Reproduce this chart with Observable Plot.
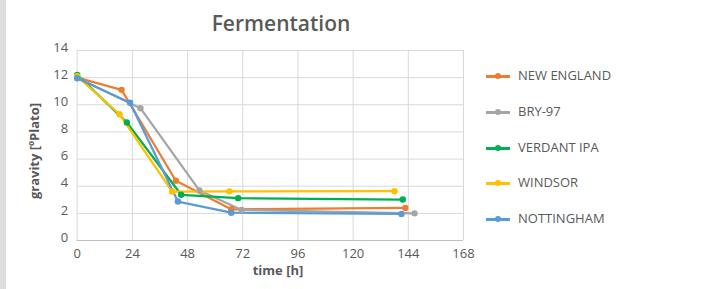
<!DOCTYPE html>
<html>
<head>
<meta charset="utf-8">
<script src="https://cdn.jsdelivr.net/npm/d3@7"></script>
<script src="https://cdn.jsdelivr.net/npm/@observablehq/plot@0.6"></script>
<style>
  html, body { margin: 0; padding: 0; background: #fff; }
  #wrap { position: relative; width: 702px; height: 289px; overflow: hidden; font-family: "Open Sans", sans-serif; color: #595959; }
  #strip { position: absolute; left: 0; top: 0; width: 6px; height: 289px; background: #dedede; }
  #chart { position: absolute; left: 0; top: 0; }
  #title { position: absolute; left: 0; width: 562px; top: 9px; text-align: center; font-size: 21px; font-weight: 600; color: #595959; }
  .axt { position: absolute; font-size: 13px; font-weight: 700; color: #595959; white-space: nowrap; }
  #xt { left: 178px; width: 200px; text-align: center; top: 261px; }
  #yt { left: 34px; top: 151px; transform: translate(-50%, -50%) rotate(-90deg); }
  #legend { position: absolute; left: 486px; top: 0; }
  .li { position: absolute; left: 0; height: 20px; width: 200px; }
  .li .sw { position: absolute; left: 0; top: 9px; width: 24px; height: 2.5px; }
  .li .dt { position: absolute; left: 9px; top: 7px; width: 6px; height: 6px; border-radius: 50%; }
  .li .lb { position: absolute; left: 32px; top: 0px; font-size: 13px; line-height: 19px; color: #595959; }
</style>
</head>
<body>
<div id="wrap">
  <div id="strip"></div>
  <div id="chart"></div>
  <div id="title">Fermentation</div>
  <div class="axt" id="xt">time [h]</div>
  <div class="axt" id="yt">gravity [ºPlato]</div>
  <div id="legend"></div>
</div>
<script>
// Series names and colours
const seriesNames = ["NEW ENGLAND", "BRY-97", "VERDANT IPA", "WINDSOR", "NOTTINGHAM"];
const seriesColors = ["#ED7D31", "#A5A5A5", "#00B050", "#FFC000", "#5B9BD5"];

// Time (h) and gravity (ºPlato) for each series
const newEnglandTime = [0, 19.3, 42.9, 67, 142.7];
const newEnglandGravity = [12.0, 11.1, 4.4, 2.3, 2.4];
const bry97Time = [0, 27.5, 53.2, 71.5, 146.7];
const bry97Gravity = [12.0, 9.75, 3.68, 2.25, 2.0];
const verdantTime = [0, 21.6, 45.2, 70, 141.6];
const verdantGravity = [12.2, 8.7, 3.37, 3.12, 3.02];
const windsorTime = [0, 18.4, 41.3, 66.2, 138];
const windsorGravity = [12.1, 9.3, 3.61, 3.62, 3.63];
const nottinghamTime = [0, 23, 43.8, 67, 141];
const nottinghamGravity = [11.95, 10.15, 2.87, 2.05, 1.96];

// Axis ticks
const xTicks = [0, 24, 48, 72, 96, 120, 144, 168];
const yTicks = [0, 2, 4, 6, 8, 10, 12, 14];

const times = [newEnglandTime, bry97Time, verdantTime, windsorTime, nottinghamTime];
const gravities = [newEnglandGravity, bry97Gravity, verdantGravity, windsorGravity, nottinghamGravity];

const data = [];
seriesNames.forEach((name, i) => {
  times[i].forEach((t, j) => data.push({series: name, time: t, gravity: gravities[i][j]}));
});

const plot = Plot.plot({
  width: 702,
  height: 289,
  marginLeft: 76.7,
  marginRight: 239,
  marginTop: 50,
  marginBottom: 49,
  style: {fontFamily: "'Open Sans', sans-serif", fontSize: "13px", color: "#595959", background: "transparent"},
  x: {domain: [0, 168], ticks: xTicks},
  y: {domain: [0, 14], ticks: yTicks},
  color: {domain: seriesNames, range: seriesColors},
  marks: [
    Plot.gridX(xTicks, {stroke: "#d9d9d9", strokeOpacity: 1, strokeWidth: 1}),
    Plot.gridY(yTicks, {stroke: "#d9d9d9", strokeOpacity: 1, strokeWidth: 1}),
    Plot.ruleY([0], {stroke: "#bfbfbf", strokeWidth: 1}),
    Plot.axisX(xTicks, {tickSize: 0, tickPadding: 8, label: null, fill: "#595959", fontSize: 13}),
    Plot.axisY(yTicks, {tickSize: 0, tickPadding: 9, dy: -3, label: null, fill: "#595959", fontSize: 13}),
    Plot.line(data, {x: "time", y: "gravity", z: "series", stroke: "series", strokeWidth: 2.25, curve: "linear"}),
    Plot.dot(data, {x: "time", y: "gravity", fill: "series", r: 3.2, stroke: "none"})
  ]
});
document.getElementById("chart").appendChild(plot);

// Legend
const legend = document.getElementById("legend");
const legendTops = [66, 102, 138, 173, 209];
seriesNames.forEach((name, i) => {
  const item = document.createElement("div");
  item.className = "li";
  item.style.top = legendTops[i] + "px";
  item.innerHTML = `<div class="sw" style="background:${seriesColors[i]}"></div><div class="dt" style="background:${seriesColors[i]}"></div><div class="lb">${name}</div>`;
  legend.appendChild(item);
});
</script>
</body>
</html>
